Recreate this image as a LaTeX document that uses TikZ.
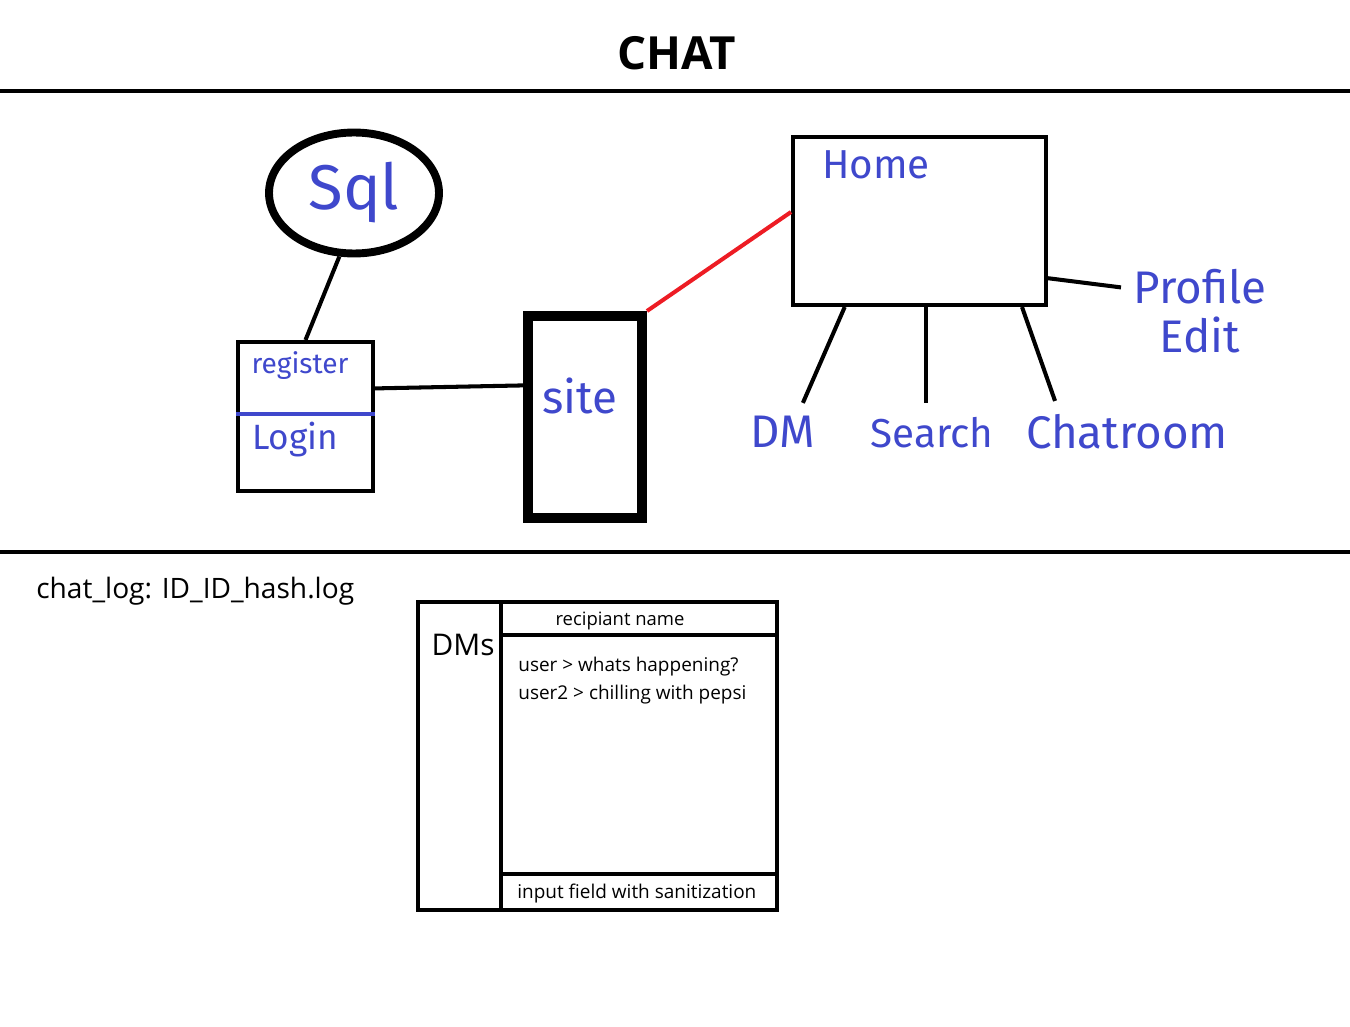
\documentclass[tikz,border=0pt]{standalone}
\usepackage{fontspec}
\setmainfont{Open Sans}
\setsansfont{Open Sans}
\newfontfamily\handfont{Fira Sans}
\usetikzlibrary{shapes}

\begin{document}
\begin{tikzpicture}[x=0.02cm,y=-0.02cm]

\definecolor{pen}{RGB}{63,72,204}
\definecolor{paintred}{RGB}{237,28,36}

\tikzstyle{box}=[rectangle, draw=black, line width=2.3pt, inner sep=0pt]
\tikzstyle{hand}=[text=pen, inner sep=1pt]
\tikzstyle{connect}=[line width=2.3pt]
\tikzstyle{note}=[inner sep=0pt]

\useasboundingbox (0,0) rectangle (1350,1027);

\node[note, font=\bfseries\fontsize{26}{30}\selectfont] (title) at (677,53) {CHAT};

\coordinate (topl) at (0,91);
\coordinate (topr) at (1350,91);
\coordinate (midl) at (0,552);
\coordinate (midr) at (1350,552);
\draw[connect] (topl) -- (topr);
\draw[connect] (midl) -- (midr);

% upper part
\node[ellipse, draw=black, line width=4.5pt, minimum width=3.4cm, minimum height=2.42cm,
      text=pen, font=\handfont\fontsize{36}{40}\selectfont] (sql) at (354,193) {Sql};
\node[box, minimum width=2.7cm, minimum height=2.98cm] (reg) at (305.5,416.5) {};
\node[box, line width=5.7pt, minimum width=2.28cm, minimum height=4.04cm] (site) at (585,417) {};
\node[box, minimum width=5.06cm, minimum height=3.36cm] (home) at (919.5,221) {};

\node[hand, font=\handfont\fontsize{16}{18}\selectfont] (register) at (300,366) {register};
\node[hand, font=\handfont\fontsize{20}{22}\selectfont] (login) at (295,440) {Login};
\node[hand, font=\handfont\fontsize{26}{28}\selectfont] (sitetxt) at (580,396) {site};
\node[hand, font=\handfont\fontsize{23}{28}\selectfont] (hometxt) at (876,165) {Home};
\node[hand, font=\handfont\fontsize{26}{28}\selectfont] (dm) at (783,432) {DM};
\node[hand, font=\handfont\fontsize{23}{28}\selectfont] (search) at (932,433) {Search};
\node[hand, font=\handfont\fontsize{26}{28}\selectfont] (chat) at (1127,432) {Chatroom};
\node[hand, align=center, font=\handfont\fontsize{26}{28}\selectfont] (profile) at (1200,311) {Profile\\Edit};

\draw[line width=2.3pt, pen] (reg.west |- 0,414) -- (reg.east |- 0,414);

\path (sql.-103) [connect] edge (reg.north);
\path (reg.22.5) [connect] edge (site.153);
\path (site.north east) [connect, paintred] edge (home.176);
\path (home.-131) [connect, shorten >=7pt] edge (dm.50);
\path (home.-86) [connect, shorten >=7pt] edge (home.-86 |- search.north);
\path (home.-40) [connect, shorten >=7pt] edge (chat.164);
\path (home.-24) [connect, shorten >=6pt] edge (profile.162);

% DM window
\draw[connect] (418,602) rectangle (777,910);
\draw[connect] (501,602) -- (501,910);
\draw[line width=2.8pt] (501,635) -- (777,635);
\draw[connect] (501,874) -- (777,874);

\node[note, anchor=west, font=\fontsize{16}{18}\selectfont] (log) at (36,591) {chat\_log: ID\_ID\_hash.log};
\node[note, font=\fontsize{17}{20}\selectfont] (dms) at (463,645) {DMs};
\node[note, font=\fontsize{10.5}{12}\selectfont] (recip) at (620,621) {recipiant name};
\node[note, anchor=west, font=\fontsize{10.8}{12}\selectfont] (msg1) at (518,667) {user > whats happening?};
\node[note, anchor=west, font=\fontsize{10.8}{12}\selectfont] (msg2) at (518,695) {user2 > chilling with pepsi};
\node[note, anchor=west, font=\fontsize{10.8}{12}\selectfont] (input) at (517,894) {input field with sanitization};

\end{tikzpicture}
\end{document}
